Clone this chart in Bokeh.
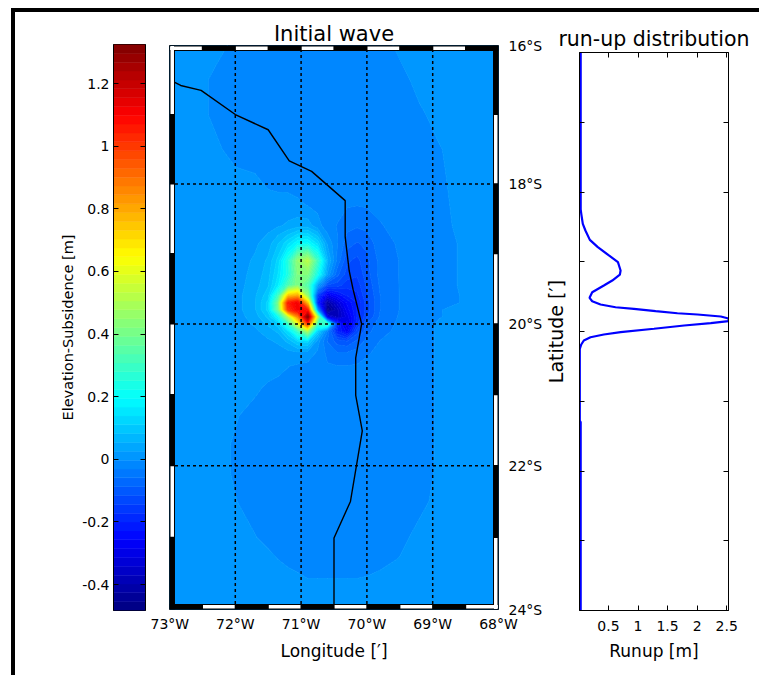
import math
import numpy as np
from bokeh.embed import file_html
from bokeh.layouts import row
from bokeh.models import FixedTicker, LinearAxis, Range1d
from bokeh.plotting import figure
from bokeh.resources import INLINE

# ---------- data ----------
LONS = [-73, -72.6, -72.3, -72.0, -71.7, -71.5, -71.35, -71.2, -71.05, -70.9, -70.75, -70.6,
        -70.45, -70.3, -70.15, -70.0, -69.8, -69.5, -69.2, -68.9, -68.6, -68.3, -68]
LATS = [-16, -16.5, -17, -17.5, -18, -18.3, -18.6, -18.85, -19.1, -19.3, -19.45, -19.6, -19.7, -19.8,
        -19.9, -20, -20.1, -20.25, -20.4, -20.6, -20.9, -21.3, -21.7, -22.1, -22.5, -23, -23.3, -23.6, -24]
ELEVATION = [
    [.006,.006,.005,-.008,-.012,-.014,-.015,-.015,-.015,-.015,-.015,-.015,-.015,-.015,-.015,-.014,-.012,.002,.006,.006,.006,.006,.006],
    [.006,.006,-.008,-.012,-.016,-.018,-.018,-.018,-.018,-.018,-.018,-.018,-.018,-.018,-.018,-.018,-.016,-.010,.004,.006,.006,.006,.006],
    [.006,.006,-.008,-.012,-.018,-.02,-.02,-.02,-.02,-.02,-.02,-.02,-.02,-.02,-.02,-.02,-.018,-.012,-.006,.004,.006,.006,.006],
    [.006,.006,.002,-.012,-.016,-.02,-.022,-.022,-.022,-.022,-.022,-.022,-.022,-.024,-.024,-.022,-.02,-.015,-.01,-.004,.004,.006,.006],
    [.006,.006,.006,.006,.003,-.006,-.01,-.012,-.016,-.02,-.022,-.024,-.026,-.028,-.028,-.026,-.022,-.016,-.012,-.006,.002,.006,.006],
    [.006,.006,.006,.006,.006,.006,.008,.01,.004,-.005,-.012,-.018,-.024,-.028,-.03,-.028,-.024,-.018,-.013,-.007,.001,.006,.006],
    [.006,.006,.006,.006,.008,.015,.022,.03,.04,.04,.01,-.02,-.032,-.05,-.055,-.05,-.033,-.022,-.014,-.008,0,.006,.006],
    [.006,.006,.006,.008,.02,.04,.08,.13,.19,.2,.13,.02,-.03,-.075,-.09,-.08,-.04,-.028,-.017,-.01,-.002,.006,.006],
    [.006,.006,.006,.01,.03,.06,.12,.25,.45,.52,.3,.06,-.04,-.11,-.125,-.095,-.05,-.03,-.018,-.01,-.002,.006,.006],
    [.006,.006,.006,.012,.035,.07,.14,.24,.42,.42,.22,.02,-.08,-.13,-.14,-.1,-.05,-.03,-.018,-.01,-.002,.006,.006],
    [.006,.006,.006,.012,.04,.08,.16,.32,.42,.33,.03,-.12,-.13,-.16,-.16,-.11,-.055,-.03,-.018,-.01,-.002,.006,.006],
    [.006,.006,.006,.012,.05,.1,.3,.75,.8,.45,-.15,-.3,-.25,-.2,-.18,-.12,-.06,-.03,-.018,-.01,-.003,.006,.006],
    [.006,.006,.006,.012,.05,.12,.4,1.05,1.12,.75,-.2,-.42,-.33,-.25,-.2,-.13,-.06,-.03,-.018,-.01,-.003,.006,.006],
    [.006,.006,.006,.012,.05,.12,.38,1.0,1.12,1.05,.0,-.47,-.38,-.27,-.2,-.13,-.06,-.03,-.018,-.004,.003,.006,.006],
    [.006,.006,.006,.01,.04,.09,.2,.5,.85,1.32,.5,-.32,-.38,-.3,-.2,-.12,-.055,-.028,-.016,-.004,.004,.006,.006],
    [.006,.006,.006,.008,.03,.06,.1,.28,.6,1.0,.3,.3,-.18,-.33,-.18,-.08,-.045,-.026,-.012,0,.006,.006,.006],
    [.006,.006,.006,.006,.02,.04,.06,.14,.3,.5,.12,-.03,-.2,-.27,-.13,-.07,-.04,-.024,-.012,0,.006,.006,.006],
    [.006,.006,.006,.006,.012,.02,.03,.06,.11,.12,.01,-.06,-.1,-.11,-.08,-.05,-.03,-.022,-.012,0,.006,.006,.006],
    [.006,.006,.006,.006,.006,.008,.012,.018,.024,.018,-.006,-.04,-.06,-.06,-.05,-.035,-.024,-.018,-.012,0,.006,.006,.006],
    [.006,.006,.006,.006,.006,.006,.004,-.002,-.008,-.012,-.02,-.028,-.03,-.03,-.028,-.024,-.02,-.016,-.012,0,.006,.006,.006],
    [.006,.006,.006,.006,.001,-.006,-.01,-.012,-.014,-.016,-.018,-.02,-.022,-.022,-.022,-.02,-.018,-.015,-.012,0,.006,.006,.006],
    [.006,.006,.006,-.001,-.01,-.012,-.014,-.015,-.016,-.017,-.018,-.018,-.019,-.019,-.019,-.018,-.016,-.014,-.012,0,.006,.006,.006],
    [.006,.006,.004,-.005,-.012,-.014,-.015,-.016,-.016,-.017,-.017,-.017,-.017,-.017,-.017,-.016,-.015,-.013,-.011,0,.006,.006,.006],
    [.006,.006,.004,-.005,-.011,-.013,-.014,-.015,-.015,-.016,-.016,-.016,-.016,-.016,-.016,-.015,-.014,-.012,-.01,0,.006,.006,.006],
    [.006,.006,.005,-.002,-.01,-.012,-.013,-.014,-.014,-.015,-.015,-.015,-.015,-.015,-.015,-.014,-.013,-.011,-.008,.003,.006,.006,.006],
    [.006,.006,.006,.006,-.002,-.008,-.01,-.012,-.012,-.012,-.012,-.012,-.012,-.012,-.012,-.012,-.011,-.008,.003,.006,.006,.006,.006],
    [.006,.006,.006,.006,.006,.002,-.003,-.007,-.009,-.01,-.01,-.01,-.01,-.01,-.01,-.01,-.008,-.002,.005,.006,.006,.006,.006],
    [.006,.006,.006,.006,.006,.006,.006,.004,.001,-.002,-.002,-.002,-.002,-.002,-.002,-.001,.002,.006,.006,.006,.006,.006,.006],
    [.006]*23,
]
COAST_LON = [-72.92, -72.83, -72.52, -72.0, -71.50, -71.18, -70.84, -70.33, -70.33, -70.27, -70.21, -70.08,
             -70.17, -70.17, -70.07, -70.25, -70.50, -70.50]
COAST_LAT = [-16.536, -16.58, -16.65, -17.0, -17.22, -17.67, -17.82, -18.24, -18.76, -19.24, -19.51, -20.0,
             -20.48, -21.01, -21.51, -22.50, -23.01, -23.95]

RUNUP = [.03, .03, .04, .066, .11, .185, .32, .507, .66, .705, .693, .564, .422, .225, .18, .225, .366, .62,
         .93, 1.298, 1.666, 2.005, 2.40, 2.53, 2.53, 2.23, 1.78, 1.27, .705, .422, .196, .083, .04, .015,
         .015, .03, .03]
RUNUP_LAT = [-16, -18.25, -18.313, -18.456, -18.552, -18.686, -18.79, -18.91, -19.006, -19.125, -19.183, -19.269,
             -19.34, -19.437, -19.517, -19.566, -19.613, -19.652, -19.675, -19.709, -19.738, -19.756, -19.785,
             -19.814, -19.852, -19.881, -19.914, -19.961, -20.01, -20.043, -20.082, -20.129, -20.186, -20.248,
             -21.28, -21.3, -24]

CB_TICKS = [-0.4, -0.2, 0, 0.2, 0.4, 0.6, 0.8, 1, 1.2]
CB_LABELS = ["-0.4", "-0.2", "0", "0.2", "0.4", "0.6", "0.8", "1", "1.2"]
LON_TICKS = [-73, -72, -71, -70, -69, -68]
LON_LABELS = ["73°W", "72°W", "71°W", "70°W", "69°W", "68°W"]
LAT_TICKS = [-16, -18, -20, -22, -24]
LAT_LABELS = ["16°S", "18°S", "20°S", "22°S", "24°S"]
GRID_LONS = [-72, -71, -70, -69]
GRID_LATS = [-18, -20, -22]
RUNUP_TICKS = [0.5, 1, 1.5, 2, 2.5]
RUNUP_TICK_LABELS = ["0.5", "1", "1.5", "2", "2.5"]
RUNUP_LAT_TICKS = [-17, -18, -19, -20, -21, -22, -23]

Z_MIN, Z_MAX = -0.483, 1.325
N_COLORS = 64
FONT = "DejaVu Sans"


def jet(n):
    out = []
    for i in range(n):
        f = (i + 0.5) / n
        r = min(4 * f - 1.5, -4 * f + 4.5)
        g = min(4 * f - 0.5, -4 * f + 3.5)
        b = min(4 * f + 0.5, -4 * f + 2.5)
        rgb = [int(round(255 * max(0, min(1, c)))) for c in (r, g, b)]
        out.append("#%02x%02x%02x" % tuple(rgb))
    return out


def merc(lat):
    """Map projection of the reference: Mercator latitude, in degrees, sign kept."""
    a = math.radians(abs(lat))
    return round(math.copysign(math.degrees(math.log(math.tan(math.pi / 4 + a / 2))), lat), 6)


palette = jet(N_COLORS)
levels = list(np.linspace(Z_MIN, Z_MAX, N_COLORS + 1))


def bare(p):
    p.grid.visible = False
    p.outline_line_color = "black"
    p.outline_line_width = 1
    p.background_fill_color = "white"
    p.border_fill_color = "white"


def style_axis(ax, size="14px"):
    ax.major_label_text_font = FONT
    ax.major_label_text_font_size = size
    ax.major_label_text_color = "black"
    ax.axis_label_text_font = FONT
    ax.axis_label_text_font_style = "normal"
    ax.axis_label_text_color = "black"
    ax.minor_tick_line_color = None
    ax.major_tick_in = 5
    ax.major_tick_out = 0
    ax.major_tick_line_color = "black"
    ax.axis_line_color = "black"


def ticks_only(ax):
    style_axis(ax, "1px")
    ax.major_label_text_color = None
    ax.major_label_standoff = 0


# Frames in one row get the same top and bottom borders, so the plots differ by margin and height.
TOP, BOTTOM = 32, 65

# ---------- colour bar ----------
cb = figure(width=135, height=663, min_border_left=98, min_border_right=5, min_border_top=TOP, min_border_bottom=BOTTOM,
            x_range=Range1d(0, 1), y_range=Range1d(Z_MIN, Z_MAX), output_backend="svg", toolbar_location=None)
bare(cb)
cb.xaxis.visible = False
cb.quad(left=0, right=1, bottom=levels[:-1], top=levels[1:], fill_color=palette, line_color=palette, line_width=0.5)
ax = cb.yaxis[0]
style_axis(ax)
ax.ticker = FixedTicker(ticks=CB_TICKS)
ax.major_label_overrides = dict(zip(CB_TICKS, CB_LABELS))
ax.axis_label = "Elevation-Subsidence [m]"
ax.axis_label_text_font_size = "14.5px"
ax.axis_label_standoff = 3
ax.major_label_standoff = 4
r_ax = LinearAxis(ticker=FixedTicker(ticks=CB_TICKS))
ticks_only(r_ax)
cb.add_layout(r_ax, "right")

# ---------- map ----------
ytop, ybot = merc(-16), merc(-24)
mp = figure(width=395, height=661, margin=(1, 0, 0, 0), min_border_left=19, min_border_right=46,
            min_border_top=TOP, min_border_bottom=BOTTOM,
            x_range=Range1d(-73, -68), y_range=Range1d(ybot, ytop), y_axis_location="right",
            output_backend="svg", toolbar_location=None, title="Initial wave")
bare(mp)
mp.title.text_font = FONT
mp.title.text_font_size = "21px"
mp.title.text_font_style = "normal"
mp.title.text_color = "black"
mp.title.align = "center"
mp.title.standoff = 0

y_grid = [merc(v) for v in reversed(LATS)]
z_grid = np.array(ELEVATION[::-1], dtype=float)
mp.contour(LONS, y_grid, z_grid, levels, fill_color=palette, line_color=palette + [palette[-1]], line_width=1)

px_x = 5.0 / 330
px_y = (ytop - ybot) / 564
band_x, band_y = 5.5 * px_x, 5.5 * px_y
mp.segment(x0=GRID_LONS, x1=GRID_LONS, y0=[ybot + band_y] * len(GRID_LONS), y1=[ytop - band_y] * len(GRID_LONS),
           line_color="black", line_width=1.5, line_dash="3 3")
gy = [merc(v) for v in GRID_LATS]
mp.segment(x0=[-73 + band_x] * len(gy), x1=[-68 - band_x] * len(gy), y0=gy, y1=gy,
           line_color="black", line_width=1.5, line_dash="3 3")
mp.line([v for v in COAST_LON], [merc(v) for v in COAST_LAT], line_color="black", line_width=1.4)

# fancy m_map frame: a black ring, white inset every other interval
mp.quad(left=[-73, -68 - band_x, -73, -73], right=[-73 + band_x, -68, -68, -68],
        bottom=[ybot, ybot, ybot, ytop - band_y], top=[ytop, ytop, ybot + band_y, ytop],
        fill_color="black", line_color=None)
lon_edges = list(np.arange(-73, -67.9, 0.5))
lat_edges = [-16 - k for k in range(9)]
wl, wr, wb, wt = [], [], [], []
for k in range(len(lon_edges) - 1):
    x0, x1 = lon_edges[k] + 0.6 * px_x, lon_edges[k + 1] - 0.6 * px_x
    if k % 2 == 0:
        wl.append(x0); wr.append(x1); wb.append(ytop - band_y + px_y); wt.append(ytop - px_y)
    else:
        wl.append(x0); wr.append(x1); wb.append(ybot + px_y); wt.append(ybot + band_y - px_y)
for k in range(len(lat_edges) - 1):
    y1, y0 = merc(lat_edges[k]) - 0.6 * px_y, merc(lat_edges[k + 1]) + 0.6 * px_y
    if k % 2 == 0:
        wl.append(-73 + px_x); wr.append(-73 + band_x - px_x); wb.append(y0); wt.append(y1)
    else:
        wl.append(-68 - band_x + px_x); wr.append(-68 - px_x); wb.append(y0); wt.append(y1)
mp.quad(left=wl, right=wr, bottom=wb, top=wt, fill_color="white", line_color=None)

ax = mp.xaxis[0]
style_axis(ax)
ax.major_tick_in = 0
ax.axis_line_color = None
ax.major_tick_line_color = None
ax.ticker = FixedTicker(ticks=LON_TICKS)
ax.major_label_overrides = dict(zip(LON_TICKS, LON_LABELS))
ax.major_label_standoff = 6
ax.axis_label = "Longitude [′]"
ax.axis_label_text_font_size = "17px"
ax.axis_label_standoff = 6
lat_ticks = [merc(v) for v in LAT_TICKS]
ay = mp.yaxis[0]
style_axis(ay)
ay.major_tick_in = 0
ay.axis_line_color = None
ay.major_tick_line_color = None
ay.ticker = FixedTicker(ticks=lat_ticks)
ay.major_label_overrides = dict(zip(lat_ticks, LAT_LABELS))
ay.major_label_standoff = 10

# ---------- run-up ----------
ru = figure(width=218, height=655, margin=(8, 0, 0, -4), min_border_left=38, min_border_right=31,
            min_border_top=TOP, min_border_bottom=BOTTOM,
            x_range=Range1d(0.01, 2.53), y_range=Range1d(-24, -16),
            output_backend="svg", toolbar_location=None, title="run-up distribution")
bare(ru)
ru.border_fill_color = None
ru.title.text_font = FONT
ru.title.text_font_size = "20.5px"
ru.title.text_font_style = "normal"
ru.title.text_color = "black"
ru.title.align = "center"
ru.title.standoff = 3
ru.line(RUNUP, RUNUP_LAT, line_color="#0000ff", line_width=2.2)
ax = ru.xaxis[0]
style_axis(ax)
ax.ticker = FixedTicker(ticks=RUNUP_TICKS)
ax.major_label_overrides = dict(zip(RUNUP_TICKS, RUNUP_TICK_LABELS))
ax.axis_label = "Runup [m]"
ax.axis_label_text_font_size = "17px"
ax.major_label_standoff = 10
ax.axis_label_standoff = 7
ay = ru.yaxis[0]
ticks_only(ay)
ay.ticker = FixedTicker(ticks=RUNUP_LAT_TICKS)
ay.axis_label = "Latitude [′]"
ay.axis_label_text_font_size = "19px"
ay.axis_label_standoff = 13
rt = LinearAxis(ticker=FixedTicker(ticks=RUNUP_LAT_TICKS))
ticks_only(rt)
ru.add_layout(rt, "right")
tp = LinearAxis(ticker=FixedTicker(ticks=RUNUP_TICKS))
ticks_only(tp)
ru.add_layout(tp, "above")

page = row(cb, mp, ru, spacing=0, margin=(8, 0, 0, 11),
           styles={"border-left": "4px solid black", "border-top": "4px solid black"})
open("out.html", "w").write(file_html(page, INLINE))
